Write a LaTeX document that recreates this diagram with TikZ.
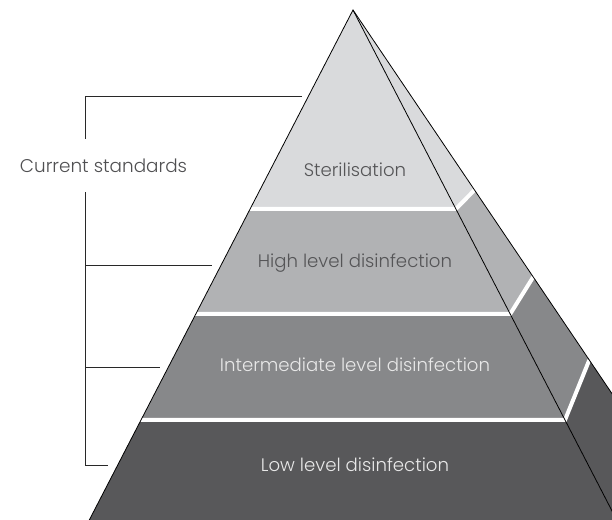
\documentclass[tikz,border=0pt]{standalone}
\usepackage{fontspec}
\setmainfont{Poppins}[UprightFont=* Light]

\tikzset{every picture/.style={line width=0.75pt}}

\begin{document}
\begin{tikzpicture}[x=0.75pt,y=0.75pt,yscale=-1,xscale=1]
\useasboundingbox (0,0) rectangle (612,520);
\clip (0,0) rectangle (612,520);

%Front Band [id:sterilisation]
\draw [draw=none ,fill={rgb, 255:red, 217; green, 218; blue, 220 }  ,fill opacity=1 ] (353,10) -- (250.1,209) -- (455.9,209) -- cycle ;
%Front Band [id:high]
\draw [draw=none ,fill={rgb, 255:red, 177; green, 178; blue, 180 }  ,fill opacity=1 ] (250.1,209) -- (455.9,209) -- (510.2,314) -- (195.8,314) -- cycle ;
%Front Band [id:intermediate]
\draw [draw=none ,fill={rgb, 255:red, 135; green, 136; blue, 138 }  ,fill opacity=1 ] (195.8,314) -- (510.2,314) -- (565,420) -- (141,420) -- cycle ;
%Front Band [id:low]
\draw [draw=none ,fill={rgb, 255:red, 88; green, 88; blue, 90 }  ,fill opacity=1 ] (141,420) -- (565,420) -- (616.7,520) -- (89.3,520) -- cycle ;
%Side Band [id:side1]
\draw [draw=none ,fill={rgb, 255:red, 217; green, 218; blue, 220 }  ,fill opacity=1 ] (353,10) -- (474.5,190) -- (455.9,209) -- cycle ;
%Side Band [id:side2]
\draw [draw=none ,fill={rgb, 255:red, 177; green, 178; blue, 180 }  ,fill opacity=1 ] (455.9,209) -- (474.5,190) -- (533.2,277) -- (510.2,314) -- cycle ;
%Side Band [id:side3]
\draw [draw=none ,fill={rgb, 255:red, 135; green, 136; blue, 138 }  ,fill opacity=1 ] (510.2,314) -- (533.2,277) -- (589.3,360) -- (565,420) -- cycle ;
%Side Band [id:side4]
\draw [draw=none ,fill={rgb, 255:red, 88; green, 88; blue, 90 }  ,fill opacity=1 ] (565,420) -- (589.3,360) -- (697.3,520) -- (616.7,520) -- cycle ;

%White Gaps
\draw [color=white ,line width=3pt]  (248,209) -- (455.9,209) -- (474.5,190) ;
\draw [color=white ,line width=3pt]  (193.8,314) -- (510.2,314) -- (533.2,277) ;
\draw [color=white ,line width=3pt]  (139,420) -- (565,420) -- (589.3,360) ;

%Edges
\draw [line width=0.6pt]  (89.3,520) -- (353,10) -- (616.7,520) ;
\draw [line width=0.6pt]  (353,10) -- (697.3,520) ;

%Bracket
\coordinate (b1) at (85.5,96) ;
\coordinate (b2) at (85.5,265) ;
\coordinate (b3) at (85.5,367) ;
\coordinate (b4) at (85.5,465) ;
\coordinate (t1) at (302,96) ;
\coordinate (t2) at (212,265) ;
\coordinate (t3) at (160,367) ;
\coordinate (t4) at (108,465) ;

% Text Node
\draw (103.5,166) node (std) [color={rgb, 255:red, 80; green, 80; blue, 82 }  ,minimum height=39pt ,inner sep=0pt ] {\fontsize{13.8}{16}\selectfont Current standards};

\draw [color={rgb, 255:red, 40; green, 40; blue, 40 }  ,line width=0.6pt]  (t1) -- (b1) -- (b1 |- std.north) ;
\draw [color={rgb, 255:red, 40; green, 40; blue, 40 }  ,line width=0.6pt]  (b1 |- std.south) -- (b4) -- (t4) ;
\draw [color={rgb, 255:red, 40; green, 40; blue, 40 }  ,line width=0.6pt]  (b2) -- (t2) ;
\draw [color={rgb, 255:red, 40; green, 40; blue, 40 }  ,line width=0.6pt]  (b3) -- (t3) ;

% Text Node
\draw (355,170) node (ster) [color={rgb, 255:red, 85; green, 85; blue, 87 }  ] {\fontsize{13.6}{16}\selectfont Sterilisation};
% Text Node
\draw (355,263.5) node (high) [color={rgb, 255:red, 85; green, 85; blue, 87 }  ] {\fontsize{13.6}{16}\selectfont High level disinfection};
% Text Node
\draw (355,365) node (inter) [color={rgb, 255:red, 232; green, 232; blue, 232 }  ] {\fontsize{13.6}{16}\selectfont Intermediate level disinfection};
% Text Node
\draw (355,465) node (low) [color={rgb, 255:red, 232; green, 232; blue, 232 }  ] {\fontsize{13.6}{16}\selectfont Low level disinfection};

\end{tikzpicture}
\end{document}
